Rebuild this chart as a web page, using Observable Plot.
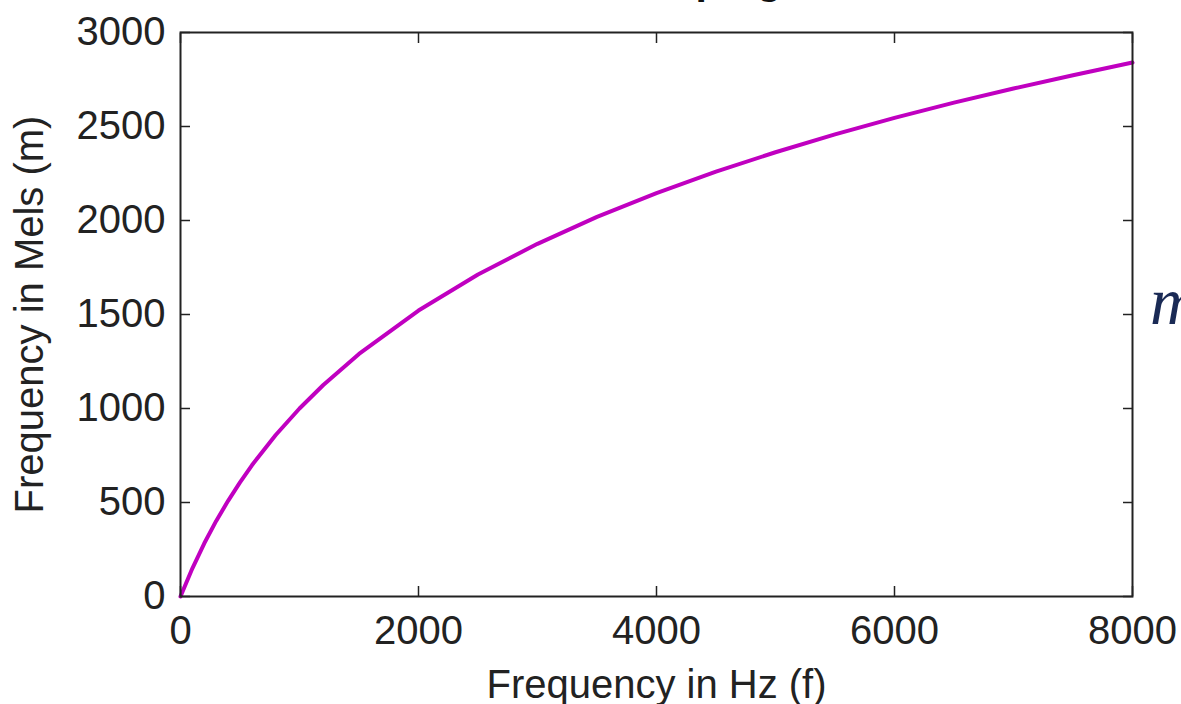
<!DOCTYPE html>
<html>
<head>
<meta charset="utf-8">
<script src="https://cdn.jsdelivr.net/npm/d3@7"></script>
<script src="https://cdn.jsdelivr.net/npm/@observablehq/plot@0.6"></script>
<style>
  html, body { margin: 0; padding: 0; background: #fff; overflow: hidden; }
  #wrap { position: relative; width: 1181px; height: 704px; overflow: hidden; }
  #chart { position: absolute; left: 0; top: 0; }
  #title { position: absolute; left: 545px; top: -43px; font: bold 41px "Liberation Sans", Arial, sans-serif; color: #111; white-space: nowrap; }
  #side { position: absolute; left: 1150px; top: 262px; font: italic 68px "Liberation Serif", "Times New Roman", serif; color: #1a2a55; white-space: nowrap; }
</style>
</head>
<body>
<div id="wrap">
  <div id="title">Mel warping</div>
  <div id="chart"></div>
  <div id="side">m</div>
</div>
<script>
// Frequency in Hz (f)
const freqHz = [0, 100, 200, 300, 400, 500, 600, 800, 1000, 1200, 1500, 2000, 2500, 3000, 3500, 4000, 4500, 5000, 5500, 6000, 6500, 7000, 7500, 8000];
// Frequency in Mels (m)
const mels = [0, 150, 283, 402, 509, 607, 698, 859, 1000, 1125, 1290, 1521, 1713, 1876, 2019, 2146, 2260, 2363, 2458, 2546, 2627, 2702, 2773, 2840];
const xTicks = [0, 2000, 4000, 6000, 8000];
const yTicks = [0, 500, 1000, 1500, 2000, 2500, 3000];

const data = freqHz.map((f, i) => ({f, m: mels[i]}));
const ink = "#222";
const blank = () => "";
const plain = d => String(d);

const chart = Plot.plot({
  width: 1181,
  height: 704,
  marginLeft: 180,
  marginRight: 49,
  marginTop: 32,
  marginBottom: 108,
  style: {fontFamily: "'Liberation Sans', Arial, sans-serif", fontSize: "40px", color: ink, background: "transparent", overflow: "visible"},
  x: {domain: [0, 8000]},
  y: {domain: [0, 3000]},
  marks: [
    Plot.line(data, {x: "f", y: "m", stroke: "#c000c0", strokeWidth: 4}),
    Plot.frame({stroke: ink, strokeWidth: 2}),
    Plot.axisX(xTicks, {anchor: "bottom", tickSize: -10, tickFormat: blank, label: null, strokeWidth: 1.5}),
    Plot.axisX(xTicks, {anchor: "top", tickSize: -10, tickFormat: blank, label: null, strokeWidth: 1.5}),
    Plot.axisY(yTicks, {anchor: "left", tickSize: -10, tickFormat: blank, label: null, strokeWidth: 1.5}),
    Plot.axisY(yTicks, {anchor: "right", tickSize: -10, tickFormat: blank, label: null, strokeWidth: 1.5}),
    Plot.axisX(xTicks, {anchor: "bottom", tickSize: 0, tickPadding: 19, fontSize: 40, tickFormat: plain, label: "Frequency in Hz (f)", labelAnchor: "center", labelArrow: "none", labelOffset: 101}),
    Plot.axisY(yTicks, {anchor: "left", tickSize: 0, tickPadding: 15, fontSize: 40, tickFormat: plain, label: "Frequency in Mels (m)", labelAnchor: "center", labelArrow: "none", labelOffset: 166})
  ]
});
document.getElementById("chart").appendChild(chart);
</script>
</body>
</html>
